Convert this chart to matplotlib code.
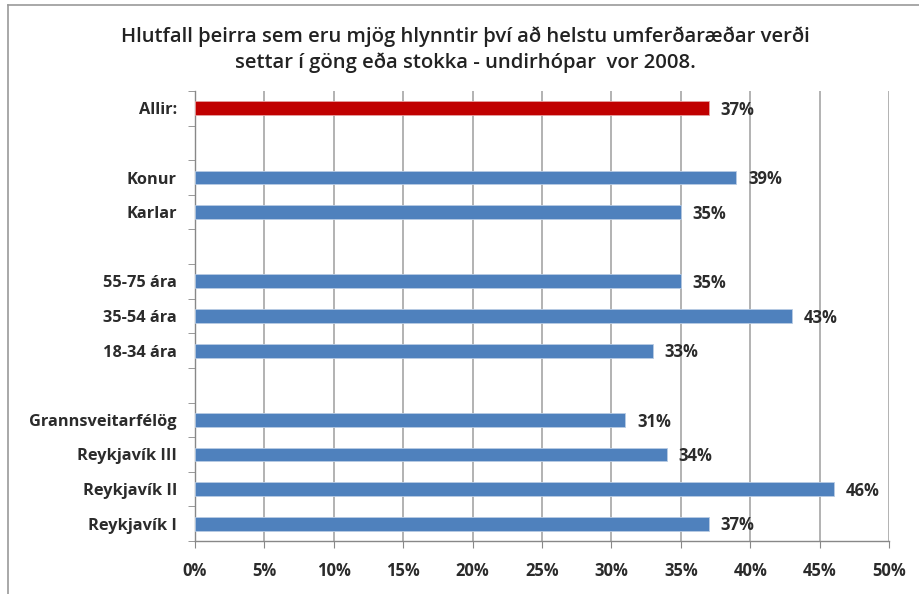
import matplotlib
matplotlib.use("Agg")
import matplotlib.pyplot as plt
import numpy as np
from matplotlib.ticker import FixedLocator, NullFormatter

plt.rcParams['font.family'] = ['Open Sans', 'DejaVu Sans']

# Rows from top to bottom; empty strings are spacer rows between groups
categories = ["Allir:", "", "Konur", "Karlar", "", "55-75 ára", "35-54 ára", "18-34 ára", "",
              "Grannsveitarfélög", "Reykjavík III", "Reykjavík II", "Reykjavík I"]
values = [37, None, 39, 35, None, 35, 43, 33, None, 31, 34, 46, 37]
highlight = "Allir:"
xticks = [0, 5, 10, 15, 20, 25, 30, 35, 40, 45, 50]
title = ("Hlutfall þeirra sem eru mjög hlynntir því að helstu umferðaræðar verði\n"
         "settar í göng eða stokka - undirhópar  vor 2008.")

fig = plt.figure(figsize=(9.19, 5.94), dpi=100)
ax = fig.add_axes([0.2122, 0.0892, 0.7552, 0.7576])

n = len(categories)
ypos = np.arange(n)
for y, cat, v in zip(ypos, categories, values):
    if v is None:
        continue
    color = "#c00000" if cat == highlight else "#4f81bd"
    ax.barh(y, v, height=0.4, color=color, edgecolor="#b8cce4" if cat != highlight else "#e6a0a0",
            linewidth=0.6, zorder=3)
    ax.text(v + 0.85, y + 0.05, f"{v}%", va="center", ha="left", fontsize=12,
            fontweight="bold", color="#2b2b2b", zorder=4)

ax.set_xlim(0, 50)
ax.set_ylim(n - 0.5, -0.5)

ax.set_xticks(xticks)
ax.set_xticklabels([f"{t}%" for t in xticks], fontsize=12, fontweight="bold", color="#2b2b2b")
ax.xaxis.grid(True, color="#a6a6a6", linewidth=1.2, zorder=0)
ax.tick_params(axis="x", length=5, color="#888888", pad=10)

ax.set_yticks(ypos)
ax.set_yticklabels(categories, fontsize=11.8, fontweight="bold", color="#2b2b2b")
ax.tick_params(axis="y", which="major", length=0, pad=13)
ax.yaxis.set_minor_locator(FixedLocator(np.arange(-0.5, n, 1.0)))
ax.yaxis.set_minor_formatter(NullFormatter())
ax.tick_params(axis="y", which="minor", length=5, color="#888888")

for side in ("top", "right"):
    ax.spines[side].set_visible(False)
for side in ("left", "bottom"):
    ax.spines[side].set_color("#888888")
    ax.spines[side].set_linewidth(1.0)

fig.text(0.506, 0.917, title, ha="center", va="center", fontsize=14.6, fontweight="semibold",
         color="#222222", linespacing=1.35)

# Outer chart frame (left and top edges)
fig.add_artist(plt.Line2D([8 / 919, 8 / 919], [0, 1 - 5 / 594], transform=fig.transFigure,
                          color="#9a9a9a", linewidth=1.2))
fig.add_artist(plt.Line2D([8 / 919, 1], [1 - 5 / 594, 1 - 5 / 594], transform=fig.transFigure,
                          color="#9a9a9a", linewidth=1.2))

fig.savefig("out.png", dpi=100)
